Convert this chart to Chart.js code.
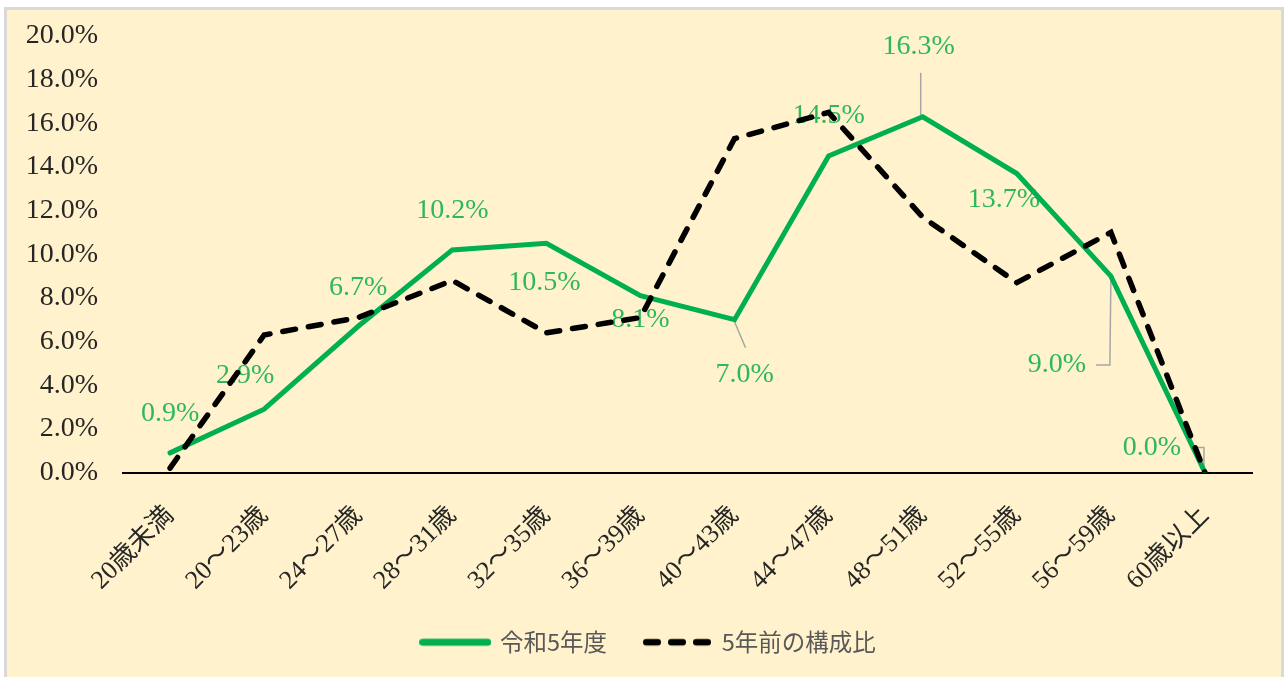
<!DOCTYPE html>
<html><head><meta charset="utf-8">
<script src="https://cdn.jsdelivr.net/npm/chart.js@4.4.1/dist/chart.umd.min.js"></script>
<style>
html,body{margin:0;padding:0;background:#fff;width:1285px;height:677px;overflow:hidden}
#frame{position:absolute;left:4px;top:7px;width:1274px;height:672px;border:3px solid #d9d9d9;border-bottom:none;background:#FFF2CC}
#wrap{position:absolute;left:0;top:0;width:1285px;height:677px}
</style></head><body>
<div id="frame"></div>
<div id="wrap"><canvas id="c" width="1285" height="677"></canvas></div>
<script>
const categories = ['20歳未満','20～23歳','24～27歳','28～31歳','32～35歳','36～39歳','40～43歳','44～47歳','48～51歳','52～55歳','56～59歳','60歳以上'];
const currentShare = [0.9, 2.9, 6.7, 10.2, 10.5, 8.1, 7.0, 14.5, 16.3, 13.7, 9.0, 0.0];
const pastShare = [0.2, 6.3, 7.1, 8.8, 6.4, 7.1, 15.3, 16.5, 11.7, 8.7, 11.0, 0.0];
const seriesNames = ['令和5年度', '5年前の構成比'];
const yMin = 0, yMax = 20, yStep = 2;

// label placement (offsets from point, in px) and leader lines
const labelOffsets = [[0,-39],[-19,-34],[0,-39],[0,-39],[-2,39],[0,24],[10,55],[0,-40],[-4,-70],[-13,26],[-54,89],[-53,-25]];
const leaders = {6:[[0,2],[11,28]], 8:[[-2,-44],[-2,0]], 10:[[0,3],[-1,89],[-15,89]], 11:[[-13,-25],[-1,-25],[-1,0]]};

const SERIF = '"Liberation Serif","Noto Sans CJK JP",serif';
const labelColor = '#2DB85A';
const greenColor = '#00B050';

function makeLegendImage(kind) {
  const cv = document.createElement('canvas');
  cv.width = 72; cv.height = 10;
  const g = cv.getContext('2d');
  g.lineCap = 'round';
  if (kind === 'solid') {
    g.strokeStyle = greenColor; g.lineWidth = 7;
    g.beginPath(); g.moveTo(3.5, 5); g.lineTo(68.5, 5); g.stroke();
  } else {
    g.strokeStyle = '#000'; g.lineWidth = 6.5;
    for (let i = 0; i < 3; i++) {
      const x0 = 2 + i * 25;
      g.beginPath(); g.moveTo(x0 + 3.25, 5); g.lineTo(x0 + 14.75, 5); g.stroke();
    }
  }
  return cv;
}
const legendImages = [makeLegendImage('solid'), makeLegendImage('dash')];

const dataLabelPlugin = {
  id: 'dataLabels',
  afterLayout(chart) {
    // legend is centred under the whole frame rather than the plot
    if (chart.legend) { chart.legend.left += 23; chart.legend.right += 23; }
  },
  beforeDatasetsDraw(chart) {
    const meta = chart.getDatasetMeta(0);
    const ctx = chart.ctx;
    ctx.save();
    ctx.strokeStyle = '#A6A6A6';
    ctx.lineWidth = 1.5;
    Object.keys(leaders).forEach(k => {
      const p = meta.data[k];
      const pts = leaders[k];
      ctx.beginPath();
      pts.forEach((q, j) => { if (j === 0) ctx.moveTo(p.x + q[0], p.y + q[1]); else ctx.lineTo(p.x + q[0], p.y + q[1]); });
      ctx.stroke();
    });
    ctx.font = '28px ' + SERIF;
    ctx.fillStyle = labelColor;
    ctx.textAlign = 'center';
    ctx.textBaseline = 'middle';
    meta.data.forEach((p, i) => {
      const v = chart.data.datasets[0].data[i];
      const o = labelOffsets[i];
      ctx.fillText(v.toFixed(1) + '%', p.x + o[0], p.y + o[1]);
    });
    ctx.restore();
  }
};

new Chart(document.getElementById('c'), {
  type: 'line',
  data: {
    labels: categories,
    datasets: [
      { label: seriesNames[0], data: currentShare, borderColor: greenColor, backgroundColor: greenColor, borderWidth: 5, pointRadius: 0, tension: 0, order: 1, borderCapStyle: 'round' },
      { label: seriesNames[1], data: pastShare, borderColor: '#000000', backgroundColor: '#000000', borderWidth: 5.5, borderDash: [13, 13], borderCapStyle: 'round', pointRadius: 0, tension: 0, order: 0 }
    ]
  },
  options: {
    responsive: false,
    animation: false,
    layout: { padding: { left: 0, right: 33, top: 36, bottom: 13 } },
    plugins: {
      tooltip: { enabled: false },
      legend: {
        position: 'bottom',
        labels: {
          usePointStyle: true,
          pointStyleWidth: 66,
          boxHeight: 10,
          padding: 37,
          color: '#595959',
          font: { family: '"Noto Sans CJK JP","Liberation Serif",sans-serif', size: 23.5 },
          sort: (a, b) => a.datasetIndex - b.datasetIndex,
          generateLabels: chart => Chart.defaults.plugins.legend.labels.generateLabels(chart).map(l => Object.assign(l, { pointStyle: legendImages[l.datasetIndex] }))
        }
      }
    },
    scales: {
      x: {
        offset: true,
        grid: { display: false, drawTicks: false },
        border: { display: true, color: '#000', width: 2 },
        ticks: { minRotation: 45, maxRotation: 45, padding: 28, color: '#262626', font: { family: SERIF, size: 26 } },
        afterFit: s => { s.height = 121; }
      },
      y: {
        min: yMin, max: yMax,
        grid: { display: false, drawTicks: false },
        border: { display: false },
        ticks: { stepSize: yStep, padding: 25, color: '#262626', font: { family: SERIF, size: 28 }, callback: v => Number(v).toFixed(1) + '%' },
        afterFit: s => { s.width = 123; s.paddingTop = 0; s.paddingBottom = 0; }
      }
    }
  },
  plugins: [dataLabelPlugin]
});
</script>
</body></html>
